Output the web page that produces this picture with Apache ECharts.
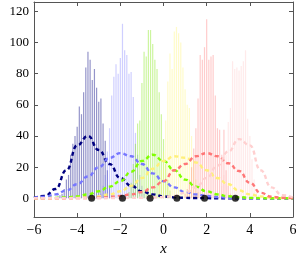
<!DOCTYPE html>
<html><head><meta charset="utf-8">
<script src="https://cdn.jsdelivr.net/npm/echarts@6/dist/echarts.min.js"></script>
<style>html,body{margin:0;padding:0;background:#fff}#c{width:302px;height:255px}</style>
</head><body><div id="c"></div>
<script>
// tick labels
const xTicks = [-6, -4, -2, 0, 2, 4, 6];
const yTicks = [0, 20, 40, 60, 80, 100, 120];

// histogram bins (x) and heights per group
const bin1X = [-4.9,-4.8,-4.7,-4.6,-4.5,-4.4,-4.3,-4.2,-4.1,-4.0,-3.9,-3.8,-3.7,-3.6,-3.5,-3.4,-3.3,-3.2,-3.1,-3.0,-2.9,-2.8,-2.7,-2.6,-2.5,-2.4,-2.3];
const bin1Y = [1,2,3,6,12,15,28,35,40,46,59,54,68,84,94,89,76,83,71,62,64,48,37,18,8,3,1];
const bin2X = [-2.9,-2.8,-2.7,-2.6,-2.5,-2.4,-2.3,-2.2,-2.1,-2.0,-1.9,-1.8,-1.7,-1.6,-1.5,-1.4,-1.3,-1.2,-1.1,-1.0,-0.9];
const bin2Y = [3,8,15,30,45,66,78,86,80,90,112,95,92,80,81,65,42,28,15,8,3];
const bin3X = [-1.6,-1.5,-1.4,-1.3,-1.2,-1.1,-1.0,-0.9,-0.8,-0.7,-0.6,-0.5,-0.4,-0.3,-0.2,-0.1,0.0,0.1,0.2,0.3];
const bin3Y = [4,10,22,35,48,50,74,94,91,108,108,99,89,83,68,54,38,22,12,5];
const bin4X = [-0.2,-0.1,0.0,0.1,0.2,0.3,0.4,0.5,0.6,0.7,0.8,0.9,1.0,1.1,1.2,1.3,1.4,1.5,1.6];
const bin4Y = [8,18,30,50,75,93,83,107,110,106,100,84,70,60,58,40,25,12,4];
const bin5X = [1.0,1.1,1.2,1.3,1.4,1.5,1.6,1.7,1.8,1.9,2.0,2.1,2.2,2.3,2.4,2.5,2.6,2.7,2.8,2.9,3.0,3.1];
const bin5Y = [3,6,12,20,32,45,64,92,89,97,115,89,91,92,66,45,44,28,44,18,8,3];
const bin6X = [2.6,2.7,2.8,2.9,3.0,3.1,3.2,3.3,3.4,3.5,3.6,3.7,3.8,3.9,4.0,4.1,4.2,4.3,4.4];
const bin6Y = [3,8,15,28,49,58,88,83,84,82,85,88,95,51,40,25,12,5,2];

// density curves, sampled at curveX
const curveX = [-6,-5.5,-5,-4.5,-4,-3.5,-3,-2.5,-2,-1.5,-1,-0.5,0,0.5,1,1.5,2,2.5,3,3.5,4,4.5,5,5.5,6];
const curve1 = [0.3,1.5,6,18,34,40,31,22,13,8,4.5,2.5,1.2,0.6,0.3,0.15,0.1,0.05,0,0,0,0,0,0,0];
const curve2 = [0.3,1,2.5,5,9,14,20,26,29,27,22,16,11,7,4,2.5,1.5,0.8,0.4,0.2,0.1,0,0,0,0];
const curve3 = [0,0.1,0.3,0.6,1.2,2.5,4.5,7.5,11,17,24,28,24,18,12,7.5,4.5,2.5,1.3,0.7,0.3,0.1,0,0,0];
const curve4 = [0,0,0,0.1,0.3,0.6,1.2,2.5,4.5,8,13,19,24,27,26,23,18,13,9,5,2.5,1.2,0.5,0.2,0.1];
const curve5 = [0,0,0,0,0.1,0.2,0.4,0.8,1.5,2.5,4,7,11,18,22,27,29,27,22.5,17.5,10,3.5,1,0.4,0.2];
const curve6 = [0,0,0,0,0,0,0,0.1,0.2,0.3,0.4,0.5,0.8,1.5,3.5,7,13,21,30,38,34,18,7,2,0.5];

// group means (dots)
const meanX = [-3.33, -1.9, -0.62, 0.62, 1.9, 3.33];
const meanY = [0, 0, 0, 0, 0, 0];

const barSets = [[bin1X,bin1Y],[bin2X,bin2Y],[bin3X,bin3Y],[bin4X,bin4Y],[bin5X,bin5Y],[bin6X,bin6Y]];
const curves = [curve1,curve2,curve3,curve4,curve5,curve6];
const barColors = ['rgba(0,0,128,0.42)','rgba(110,110,255,0.33)','rgba(120,230,0,0.38)','rgba(255,245,120,0.4)','rgba(255,120,120,0.38)','rgba(255,200,200,0.38)'];
const lineColors = ['#000080','#7777ff','#80ff00','#fff07a','#ff7777','#ffd0d0'];

const zip = (a, b) => a.map((v, i) => [v, b[i]]);
const fmt = v => String(v).replace('-', '\u2212');
const axisCol = '#555';
const font = 'Liberation Serif';

const series = [];
barSets.forEach((s, i) => {
  series.push({type:'bar', data: zip(s[0], s[1]), barWidth: 1.2, barGap: '-100%',
    itemStyle:{color: barColors[i]}, z: 1, silent: true, animation: false});
});
curves.forEach((c, i) => {
  series.push({type:'line', data: zip(curveX, c), smooth: true, smoothMonotone: 'x', showSymbol: false,
    lineStyle:{color: lineColors[i], width: 2.4, type: [4, 3]}, z: 3, animation: false});
});
series.push({type:'scatter', data: zip(meanX, meanY), symbolSize: 7, itemStyle:{color:'#000'}, z: 5, animation: false});

const chart = echarts.init(document.getElementById('c'), null, {renderer:'canvas'});
chart.setOption({
  animation: false,
  grid: {left: 34, right: 9, top: 2, bottom: 38, containLabel: false, outerBoundsMode: 'none'},
  xAxis: [
    {type:'value', min:-6, max:6, interval:2, position:'bottom',
     axisLine:{onZero:false, lineStyle:{color:axisCol, width:1}},
     axisTick:{inside:true, length:4, lineStyle:{color:axisCol}},
     axisLabel:{formatter: fmt, color:'#000', fontFamily: font, fontSize: 14, margin: 6},
     splitLine:{show:false},
     name:'x', nameLocation:'middle', nameGap: 21,
     nameTextStyle:{fontFamily: font, fontStyle:'italic', fontSize: 15, color:'#000'}},
    {type:'value', min:-6, max:6, interval:2, position:'top',
     axisLine:{onZero:false, lineStyle:{color:axisCol, width:1}},
     axisTick:{inside:true, length:4, lineStyle:{color:axisCol}},
     axisLabel:{show:false}, splitLine:{show:false}}
  ],
  yAxis: [
    {type:'value', min:-12, max:126, position:'left',
     axisLine:{show:true, onZero:false, lineStyle:{color:axisCol, width:1}},
     axisTick:{show:true, inside:true, length:4, customValues: yTicks, lineStyle:{color:axisCol}},
     axisLabel:{customValues: yTicks, formatter: fmt, color:'#000', fontFamily: font, fontSize: 13, margin: 5},
     splitLine:{show:false}},
    {type:'value', min:-12, max:126, position:'right',
     axisLine:{show:true, onZero:false, lineStyle:{color:axisCol, width:1}},
     axisTick:{show:true, inside:true, length:4, customValues: yTicks, lineStyle:{color:axisCol}},
     axisLabel:{show:false}, splitLine:{show:false}}
  ],
  series: series
});
</script></body></html>
